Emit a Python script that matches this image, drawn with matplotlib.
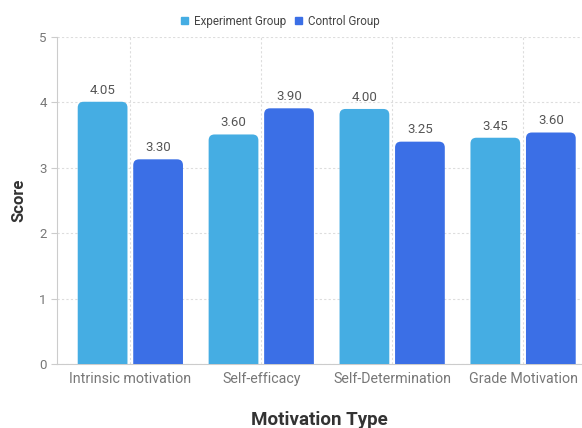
import matplotlib

matplotlib.use("Agg")
from matplotlib import pyplot as plt
from matplotlib.patches import FancyBboxPatch
import numpy as np

categories = ["Intrinsic motivation", "Self-efficacy", "Self-Determination", "Grade Motivation"]
# bar heights as drawn in the reference
experiment = [4.01, 3.51, 3.90, 3.46]
control = [3.13, 3.91, 3.40, 3.54]
# value labels as printed in the reference
experiment_labels = ["4.05", "3.60", "4.00", "3.45"]
control_labels = ["3.30", "3.90", "3.25", "3.60"]

exp_color = "#45ade3"
ctl_color = "#3b6fe6"

plt.rcParams["font.family"] = ["Roboto", "DejaVu Sans"]

fig = plt.figure(figsize=(5.82, 4.28), dpi=100)
ax = fig.add_axes([0.098, 0.1495, 0.902, 0.764])

x = np.arange(len(categories))
width = 0.38
offset = 0.212


def rounded_bars(bars, color):
    for b in bars:
        b.set_visible(False)
        patch = FancyBboxPatch(
            (b.get_x(), -0.2), b.get_width(), b.get_height() + 0.2,
            boxstyle="round,pad=0,rounding_size=0.045",
            mutation_aspect=2.0, facecolor=color, edgecolor="none", zorder=3,
        )
        ax.add_patch(patch)


b1 = ax.bar(x - offset, experiment, width, color=exp_color, label="Experiment Group")
b2 = ax.bar(x + offset, control, width, color=ctl_color, label="Control Group")
rounded_bars(b1, exp_color)
rounded_bars(b2, ctl_color)

for xi, h, t in zip(x - offset, experiment, experiment_labels):
    ax.text(xi, h + 0.08, t, ha="center", va="bottom", fontsize=9.5, color="#555555")
for xi, h, t in zip(x + offset, control, control_labels):
    ax.text(xi, h + 0.08, t, ha="center", va="bottom", fontsize=9.5, color="#555555")

ax.set_xlim(-0.56, 3.45)
ax.set_ylim(0, 5)
ax.set_xticks(x)
ax.set_xticklabels(categories, fontsize=10.3)
ax.set_yticks(range(6))
ax.tick_params(axis="both", colors="#cccccc", labelcolor="#777777", labelsize=9.5, length=4)
ax.tick_params(axis="x", length=0, pad=6, labelsize=10.3)
ax.grid(True, linestyle=(0, (2, 2)), color="#dddddd", linewidth=0.8, zorder=0)
ax.set_axisbelow(True)
for s in ["top", "right"]:
    ax.spines[s].set_visible(False)
for s in ["left", "bottom"]:
    ax.spines[s].set_color("#cccccc")

ax.set_xlabel("Motivation Type", fontsize=13.5, fontweight="bold", color="#333333", labelpad=18)
ax.set_ylabel("Score", fontsize=12, fontweight="bold", color="#333333", labelpad=9)

handles = [plt.Rectangle((0, 0), 1, 1, color=exp_color), plt.Rectangle((0, 0), 1, 1, color=ctl_color)]
fig.legend(handles, ["Experiment Group", "Control Group"], loc="upper center",
           bbox_to_anchor=(0.482, 0.99), ncol=2, frameon=False, fontsize=8.4,
           handlelength=0.6, handleheight=0.6, handletextpad=0.5, columnspacing=0.8,
           labelcolor="#444444")

fig.savefig("out.png", dpi=100)
